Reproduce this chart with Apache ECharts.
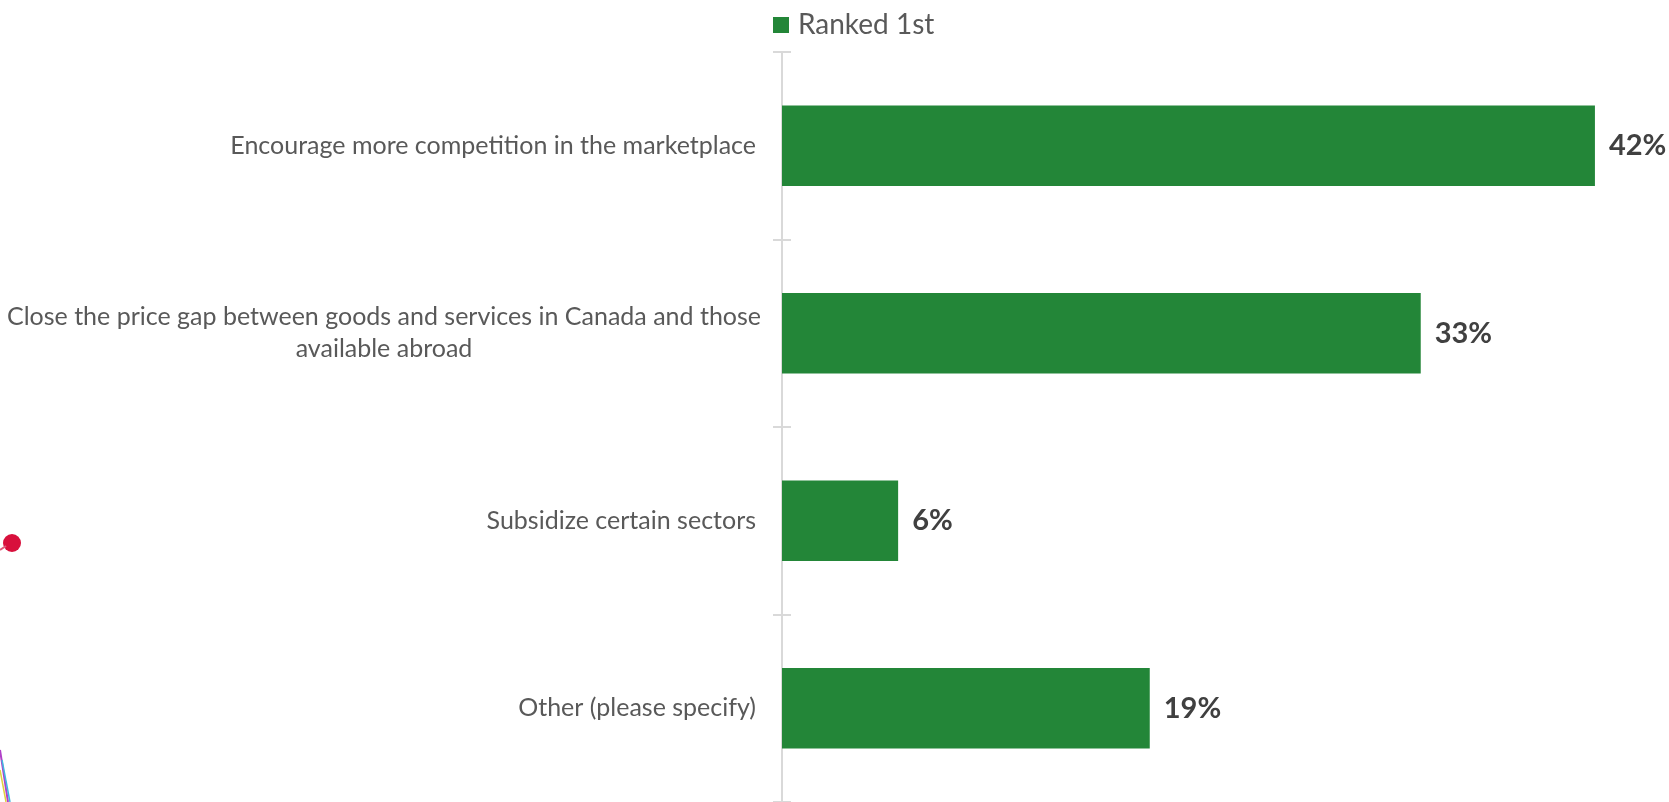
<!DOCTYPE html>
<html>
<head>
<meta charset="utf-8">
<script src="https://cdn.jsdelivr.net/npm/echarts@6/dist/echarts.min.js"></script>
<style>
  html, body { margin: 0; padding: 0; background: #ffffff; }
  #chart { width: 1669px; height: 802px; }
</style>
</head>
<body>
<div id="chart"></div>
<script>
// Survey answers, top to bottom
const categories = [
  'Encourage more competition in the marketplace',
  'Close the price gap between goods and services in Canada and those\navailable abroad',
  'Subsidize certain sectors',
  'Other (please specify)'
];
const seriesName = 'Ranked 1st';
const rankedFirst = [42, 33, 6, 19];

const FONT = 'Lato, "Open Sans", sans-serif';
const GREEN = '#238638';

const chart = echarts.init(document.getElementById('chart'), null, { renderer: 'canvas' });

chart.setOption({
  animation: false,
  backgroundColor: '#ffffff',
  legend: {
    data: [seriesName],
    left: 773,
    top: 11,
    padding: 0,
    icon: 'rect',
    itemWidth: 16,
    itemHeight: 16,
    textStyle: { fontFamily: FONT, fontSize: 28, color: '#595959', padding: [0, 0, 0, 4] }
  },
  grid: { left: 782, right: 16, top: 52, bottom: 0, containLabel: false },
  xAxis: {
    type: 'value',
    min: 0,
    max: 45,
    show: false
  },
  yAxis: [
    {
      type: 'category',
      data: categories,
      inverse: true,
      axisLine: { show: true, lineStyle: { color: '#d9d9d9', width: 2 } },
      axisTick: { show: true, length: 9, lineStyle: { color: '#d9d9d9', width: 2 } },
      axisLabel: {
        margin: 26,
        fontFamily: FONT,
        fontSize: 25,
        color: '#595959',
        align: 'right',
        lineHeight: 32,
        // multi-line answers are centred within their own block
        formatter: v => v.indexOf('\n') >= 0 ? '{c|' + v + '}' : v,
        rich: {
          c: {
            width: 744,
            align: 'center',
            fontFamily: FONT,
            fontSize: 25,
            color: '#595959',
            lineHeight: 32
          }
        }
      },
      splitLine: { show: false }
    },
    {
      // mirrored ticks so each boundary mark crosses the axis line
      type: 'category',
      data: categories,
      inverse: true,
      position: 'left',
      axisLine: { show: false },
      axisTick: { show: true, inside: true, length: 9, lineStyle: { color: '#d9d9d9', width: 2 } },
      axisLabel: { show: false },
      splitLine: { show: false }
    }
  ],
  series: [
    {
      name: seriesName,
      type: 'bar',
      yAxisIndex: 0,
      data: rankedFirst,
      barCategoryGap: '57%',
      itemStyle: { color: GREEN },
      label: {
        show: true,
        position: 'right',
        distance: 14,
        fontFamily: FONT,
        fontSize: 29,
        fontWeight: 'bold',
        color: '#404040',
        formatter: p => p.value + '%'
      }
    }
  ],
  graphic: [
    {
      type: 'circle',
      shape: { cx: 12, cy: 543, r: 9 },
      style: { fill: '#d8103c' }
    },
    {
      type: 'line',
      shape: { x1: 0, y1: 550, x2: 6, y2: 546 },
      style: { stroke: '#e05a7a', lineWidth: 2 }
    },
    { type: 'line', shape: { x1: 0, y1: 750, x2: 8, y2: 802 }, style: { stroke: '#b040c8', lineWidth: 2 } },
    { type: 'line', shape: { x1: 2, y1: 760, x2: 10, y2: 802 }, style: { stroke: '#40b8e0', lineWidth: 1.5 } },
    { type: 'line', shape: { x1: 0, y1: 770, x2: 6, y2: 802 }, style: { stroke: '#e0d040', lineWidth: 1.5 } }
  ]
});
</script>
</body>
</html>
